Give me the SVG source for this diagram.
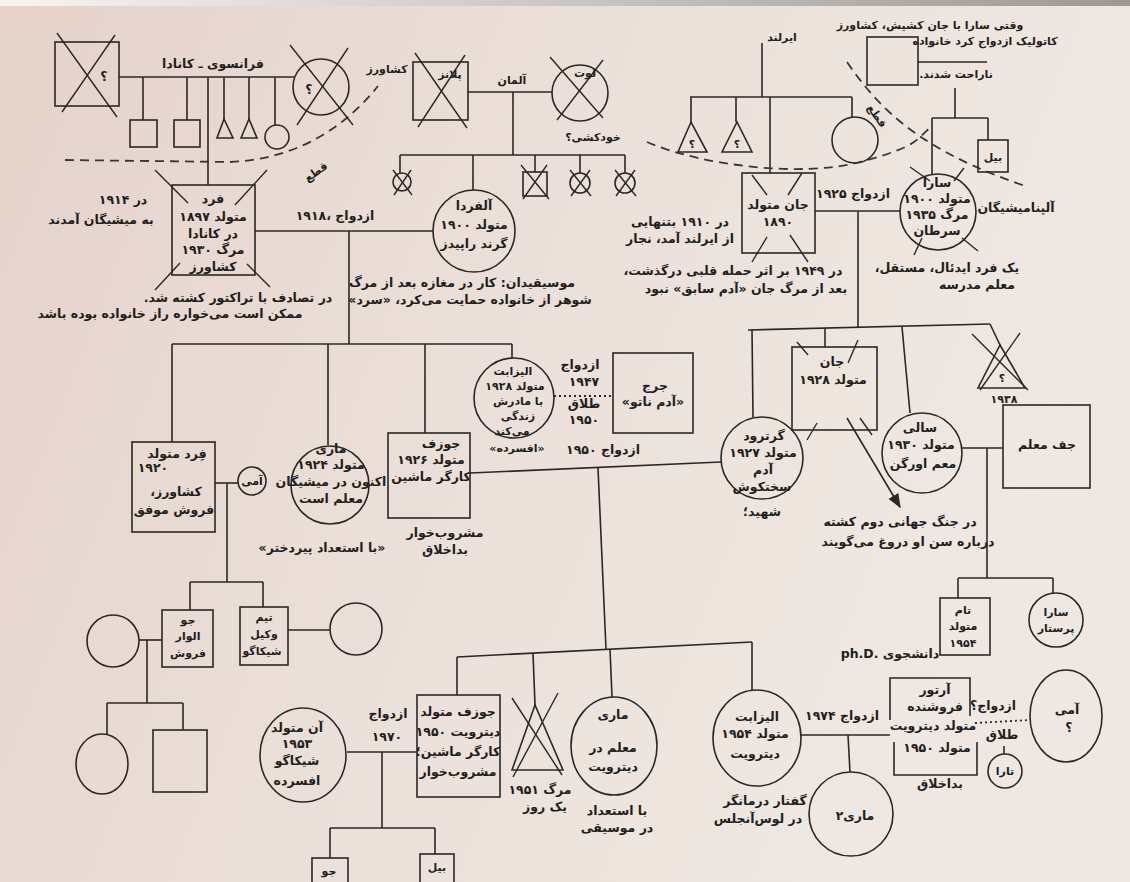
<svg xmlns="http://www.w3.org/2000/svg" width="1130" height="882" viewBox="0 0 1130 882">
<defs>
<linearGradient id="bg" x1="0" y1="0" x2="1" y2="0.3">
<stop offset="0" stop-color="#e5d2cb"/>
<stop offset="0.5" stop-color="#ebe0d9"/>
<stop offset="1" stop-color="#efe8e2"/>
</linearGradient>
<linearGradient id="topband" x1="0" y1="0" x2="1" y2="0">
<stop offset="0" stop-color="#f7f4f2"/>
<stop offset="1" stop-color="#9d9894"/>
</linearGradient>
<marker id="arr" viewBox="0 0 10 10" refX="9" refY="5" markerWidth="9" markerHeight="9" orient="auto">
<path d="M0,1 L10,5 L0,9 Z" fill="#2b2725"/>
</marker>
<style>
.ln{stroke:#2b2725;stroke-width:1.6;fill:none}
.sh{stroke:#2b2725;stroke-width:1.6;fill:none}
.x{stroke:#2b2725;stroke-width:1.4;fill:none}
.ds{stroke:#3a3533;stroke-width:1.8;fill:none;stroke-dasharray:9 6}
.dt{stroke:#2b2725;stroke-width:1.8;fill:none;stroke-dasharray:2 3}
text{font-family:"DejaVu Sans",sans-serif;font-size:12.5px;font-weight:bold;fill:#221e1c;text-anchor:middle;direction:rtl}
.s{font-size:11px}
.ltr{direction:ltr}
</style>
</defs>
<rect width="1130" height="882" fill="url(#bg)"/>
<rect width="1130" height="6" fill="url(#topband)"/>

<g id="connectors">
<line class="ln" x1="119" y1="77" x2="294" y2="77"/>
<line class="ln" x1="143" y1="77" x2="143" y2="120"/>
<line class="ln" x1="187" y1="77" x2="187" y2="120"/>
<line class="ln" x1="208" y1="77" x2="208" y2="185"/>
<line class="ln" x1="224" y1="77" x2="224" y2="119"/>
<line class="ln" x1="249" y1="77" x2="249" y2="119"/>
<line class="ln" x1="275" y1="77" x2="275" y2="125"/>
<path class="ds" d="M65,160 L230,162 Q320,158 378,86"/>
<line class="ln" x1="468" y1="92" x2="552" y2="92"/>
<line class="ln" x1="513" y1="92" x2="513" y2="155"/>
<line class="ln" x1="400" y1="155" x2="625" y2="155"/>
<line class="ln" x1="400" y1="155" x2="400" y2="173"/>
<line class="ln" x1="473" y1="155" x2="473" y2="190"/>
<line class="ln" x1="535" y1="155" x2="535" y2="172"/>
<line class="ln" x1="580" y1="155" x2="580" y2="173"/>
<line class="ln" x1="625" y1="155" x2="625" y2="173"/>
<line class="ln" x1="255" y1="231" x2="433" y2="231"/>
<line class="ln" x1="349" y1="231" x2="349" y2="344"/>
<line class="ln" x1="172" y1="344" x2="512" y2="344"/>
<line class="ln" x1="172" y1="344" x2="172" y2="442"/>
<line class="ln" x1="328" y1="344" x2="328" y2="445"/>
<line class="ln" x1="425" y1="344" x2="425" y2="433"/>
<line class="ln" x1="512" y1="344" x2="512" y2="358"/>
<line class="ln" x1="215" y1="483" x2="238" y2="483"/>
<line class="ln" x1="227" y1="483" x2="227" y2="582"/>
<line class="ln" x1="190" y1="582" x2="263" y2="582"/>
<line class="ln" x1="190" y1="582" x2="190" y2="610"/>
<line class="ln" x1="263" y1="582" x2="263" y2="607"/>
<line class="ln" x1="288" y1="630" x2="330" y2="630"/>
<line class="ln" x1="139" y1="640" x2="162" y2="640"/>
<line class="ln" x1="147" y1="640" x2="147" y2="703"/>
<line class="ln" x1="107" y1="703" x2="183" y2="703"/>
<line class="ln" x1="107" y1="703" x2="107" y2="734"/>
<line class="ln" x1="183" y1="703" x2="183" y2="730"/>
<line class="dt" x1="554" y1="396" x2="613" y2="396"/>
<line class="ln" x1="470" y1="473" x2="721" y2="462"/>
<line class="ln" x1="598" y1="468" x2="606" y2="649"/>
<line class="ln" x1="457" y1="657" x2="752" y2="642"/>
<line class="ln" x1="457" y1="657" x2="457" y2="695"/>
<line class="ln" x1="533" y1="653" x2="535" y2="705"/>
<line class="ln" x1="610" y1="649" x2="612" y2="697"/>
<line class="ln" x1="752" y1="642" x2="752" y2="690"/>
<line class="ln" x1="347" y1="752" x2="417" y2="752"/>
<line class="ln" x1="382" y1="752" x2="382" y2="828"/>
<line class="ln" x1="330" y1="828" x2="435" y2="828"/>
<line class="ln" x1="330" y1="828" x2="330" y2="858"/>
<line class="ln" x1="435" y1="828" x2="435" y2="854"/>
<line class="ln" x1="801" y1="735" x2="890" y2="735"/>
<line class="ln" x1="848" y1="735" x2="850" y2="772"/>
<line class="dt" x1="975" y1="723" x2="1030" y2="720"/>
<line class="ln" x1="1004" y1="746" x2="1004" y2="754"/>
<line class="ln" x1="762" y1="43" x2="762" y2="97"/>
<line class="ln" x1="690" y1="97" x2="852" y2="97"/>
<line class="ln" x1="691" y1="97" x2="691" y2="122"/>
<line class="ln" x1="736" y1="97" x2="736" y2="122"/>
<line class="ln" x1="770" y1="97" x2="770" y2="173"/>
<line class="ln" x1="852" y1="97" x2="852" y2="117"/>
<path class="ds" d="M647,142 C700,165 800,178 860,162 S915,140 932,126"/>
<path class="ds" d="M847,62 C880,110 920,150 1025,186"/>
<line class="ln" x1="918" y1="62" x2="987" y2="62"/>
<line class="ln" x1="955" y1="88" x2="955" y2="118"/>
<line class="ln" x1="932" y1="118" x2="988" y2="118"/>
<line class="ln" x1="932" y1="118" x2="932" y2="174"/>
<line class="ln" x1="988" y1="118" x2="988" y2="140"/>
<line class="ln" x1="815" y1="211" x2="900" y2="211"/>
<line class="ln" x1="858" y1="211" x2="858" y2="328"/>
<line class="ln" x1="748" y1="330" x2="990" y2="324"/>
<line class="ln" x1="752" y1="330" x2="753" y2="417"/>
<line class="ln" x1="825" y1="328" x2="825" y2="347"/>
<line class="ln" x1="902" y1="327" x2="910" y2="413"/>
<line class="ln" x1="990" y1="324" x2="1000" y2="345"/>
<line class="ln" x1="962" y1="448" x2="1003" y2="448"/>
<line class="ln" x1="987" y1="448" x2="987" y2="578"/>
<line class="ln" x1="958" y1="578" x2="1053" y2="578"/>
<line class="ln" x1="958" y1="578" x2="958" y2="598"/>
<line class="ln" x1="1053" y1="578" x2="1053" y2="593"/>
<line class="ln" x1="847" y1="418" x2="900" y2="507" marker-end="url(#arr)"/>
</g>

<g id="labels">
<text x="213" y="68">فرانسوی ـ کانادا</text>
<text x="387" y="73" class="s">کشاورز</text>
<text x="318" y="175" class="s" transform="rotate(-35 318 175)">قطع</text>
<text x="512" y="84" class="s">آلمان</text>
<text x="782" y="41" class="s">ایرلند</text>
<text x="874" y="118" class="s" transform="rotate(55 874 118)">قطع</text>
<text x="335" y="220">ازدواج ،۱۹۱۸</text>
<text x="123" y="204">در ۱۹۱۴</text>
<text x="101" y="224">به میشیگان آمدند</text>
<text x="238" y="302">در تصادف با تراکتور کشته شد.</text>
<text x="170" y="318">ممکن است می‌خواره راز خانواده بوده باشد</text>
<text x="462" y="287">موسیقیدان: کار در مغازه بعد از مرگ</text>
<text x="470" y="304">شوهر از خانواده حمایت می‌کرد، «سرد»</text>
<text x="680" y="226">در ۱۹۱۰ بتنهایی</text>
<text x="680" y="243">از ایرلند آمد، نجار</text>
<text x="733" y="275">در ۱۹۴۹ بر اثر حمله قلبی درگذشت،</text>
<text x="746" y="293">بعد از مرگ جان «آدم سابق» نبود</text>
<text x="853" y="198">ازدواج ۱۹۲۵</text>
<text x="930" y="29" class="s">وقتی سارا با جان  کشیش، کشاورز</text>
<text x="985" y="45" class="s">کاتولیک ازدواج کرد خانواده</text>
<text x="956" y="78" class="s">ناراحت شدند.</text>
<text x="1016" y="212">آلپنامیشیگان</text>
<text x="947" y="272">یک فرد ایدئال، مستقل،</text>
<text x="977" y="289">معلم مدرسه</text>
<text x="593" y="141" class="s">خودکشی؟</text>
<text x="322" y="552">«با استعداد پیردختر»</text>
<text x="445" y="537">مشروب‌خوار</text>
<text x="445" y="554">بداخلاق</text>
<text x="517" y="452" class="s">«افسرده»</text>
<text x="580" y="369">ازدواج</text>
<text x="584" y="386">۱۹۴۷</text>
<text x="584" y="408">طلاق</text>
<text x="584" y="424">۱۹۵۰</text>
<text x="603" y="454">ازدواج ۱۹۵۰</text>
<text x="762" y="516">شهید؛</text>
<text x="900" y="526">در جنگ جهانی دوم کشته</text>
<text x="908" y="546">درباره سن او دروغ می‌گویند</text>
<text x="890" y="658" class="ltr">ph.D. دانشجوی</text>
<text x="388" y="718">ازدواج</text>
<text x="387" y="741">۱۹۷۰</text>
<text x="540" y="794">مرگ ۱۹۵۱</text>
<text x="545" y="811">یک روز</text>
<text x="617" y="815">با استعداد</text>
<text x="617" y="832">در موسیقی</text>
<text x="765" y="805">گفتار درمانگر</text>
<text x="758" y="823">در لوس‌آنجلس</text>
<text x="842" y="720">ازدواج ۱۹۷۴</text>
<text x="940" y="788">بداخلاق</text>
<text x="993" y="710">ازدواج؟</text>
<text x="1002" y="739">طلاق</text>
</g>

<g id="n-fr-father">
<rect class="sh" x="55" y="42" width="64" height="64"/>
<line class="x" x1="57" y1="33" x2="117" y2="117"/>
<line class="x" x1="115" y1="35" x2="62" y2="112"/>
<text x="104" y="81">؟</text>
</g>
<g id="n-fr-mother">
<circle class="sh" cx="321" cy="87" r="28"/>
<line class="x" x1="290" y1="45" x2="353" y2="125"/>
<line class="x" x1="348" y1="48" x2="297" y2="125"/>
<text x="309" y="94">؟</text>
</g>
<g id="n-fr-s1"><rect class="sh" x="130" y="120" width="27" height="27"/></g>
<g id="n-fr-s2"><rect class="sh" x="174" y="120" width="26" height="27"/></g>
<g id="n-fr-t1"><polygon class="sh" points="224,119 217,138 233,138"/></g>
<g id="n-fr-t2"><polygon class="sh" points="249,119 241,138 257,138"/></g>
<g id="n-fr-c1"><circle class="sh" cx="277" cy="137" r="12"/></g>

<g id="n-planz">
<rect class="sh" x="413" y="62" width="55" height="58"/>
<line class="x" x1="415" y1="53" x2="467" y2="128"/>
<line class="x" x1="465" y1="55" x2="418" y2="127"/>
<text x="450" y="78" class="s">پلانز</text>
</g>
<g id="n-lotte">
<circle class="sh" cx="580" cy="93" r="28"/>
<line class="x" x1="550" y1="57" x2="603" y2="118"/>
<line class="x" x1="603" y1="60" x2="557" y2="120"/>
<text x="585" y="77" class="s">لوت</text>
</g>
<g id="n-g1">
<circle class="sh" cx="402" cy="182" r="9"/>
<line class="x" x1="393" y1="170" x2="412" y2="195"/>
<line class="x" x1="411" y1="170" x2="394" y2="195"/>
</g>
<g id="n-g2">
<rect class="sh" x="523" y="172" width="24" height="24"/>
<line class="x" x1="521" y1="165" x2="549" y2="199"/>
<line class="x" x1="547" y1="165" x2="523" y2="199"/>
</g>
<g id="n-g3">
<circle class="sh" cx="580" cy="183" r="10"/>
<line class="x" x1="570" y1="170" x2="591" y2="196"/>
<line class="x" x1="590" y1="170" x2="571" y2="196"/>
</g>
<g id="n-g4">
<circle class="sh" cx="625" cy="183" r="10"/>
<line class="x" x1="615" y1="170" x2="636" y2="196"/>
<line class="x" x1="635" y1="170" x2="616" y2="196"/>
</g>

<g id="n-fred1897">
<rect class="sh" x="172" y="185" width="83" height="90"/>
<line class="x" x1="155" y1="170" x2="188" y2="203"/>
<line class="x" x1="267" y1="170" x2="235" y2="205"/>
<line class="x" x1="180" y1="263" x2="155" y2="290"/>
<line class="x" x1="247" y1="264" x2="270" y2="287"/>
<text x="213" y="203">فرد</text>
<text x="213" y="221">متولد ۱۸۹۷</text>
<text x="213" y="238">در کانادا</text>
<text x="213" y="254">مرگ ۱۹۳۰</text>
<text x="213" y="271">کشاورز</text>
</g>
<g id="n-alfreda">
<circle class="sh" cx="474" cy="231" r="41"/>
<text x="474" y="210">آلفردا</text>
<text x="474" y="229">متولد ۱۹۰۰</text>
<text x="474" y="248">گرند راپیدز</text>
</g>

<g id="n-john1890">
<rect class="sh" x="742" y="173" width="73" height="80"/>
<line class="x" x1="752" y1="175" x2="767" y2="195"/>
<line class="x" x1="802" y1="173" x2="788" y2="195"/>
<line class="x" x1="767" y1="237" x2="752" y2="262"/>
<line class="x" x1="790" y1="235" x2="808" y2="262"/>
<text x="778" y="209">جان متولد</text>
<text x="778" y="226">۱۸۹۰</text>
</g>
<g id="n-ir-t1">
<polygon class="sh" points="691,122 678,152 707,152"/>
<text x="692" y="148" class="s">؟</text>
</g>
<g id="n-ir-t2">
<polygon class="sh" points="737,122 722,152 752,152"/>
<text x="737" y="148" class="s">؟</text>
</g>
<g id="n-ir-c1"><circle class="sh" cx="855" cy="140" r="23"/></g>
<g id="n-priest"><rect class="sh" x="867" y="37" width="51" height="48"/></g>
<g id="n-bill1">
<rect class="sh" x="978" y="140" width="30" height="32"/>
<text x="993" y="161" class="s">بیل</text>
</g>
<g id="n-sara1900">
<circle class="sh" cx="938" cy="212" r="38"/>
<line class="x" x1="910" y1="167" x2="930" y2="181"/>
<line class="x" x1="964" y1="168" x2="954" y2="181"/>
<line class="x" x1="922" y1="238" x2="914" y2="255"/>
<line class="x" x1="962" y1="238" x2="978" y2="251"/>
<text x="937" y="187">سارا</text>
<text x="937" y="203">متولد ۱۹۰۰</text>
<text x="937" y="219">مرگ ۱۹۳۵</text>
<text x="937" y="235">سرطان</text>
</g>

<g id="n-fred1920">
<rect class="sh" x="132" y="442" width="83" height="90"/>
<text x="177" y="458">فِرد متولد</text>
<text x="153" y="472">۱۹۲۰</text>
<text x="176" y="496">کشاورز،</text>
<text x="174" y="514">فروش موفق</text>
</g>
<g id="n-amy1">
<circle class="sh" cx="252" cy="481" r="14"/>
<text x="252" y="485" class="s">آمی</text>
</g>
<g id="n-joe-lumber">
<rect class="sh" x="162" y="610" width="51" height="57"/>
<text x="188" y="624" class="s">جو</text>
<text x="188" y="640" class="s">الوار</text>
<text x="188" y="657" class="s">فروش</text>
</g>
<g id="n-tim">
<rect class="sh" x="240" y="607" width="48" height="58"/>
<text x="264" y="621" class="s">تیم</text>
<text x="264" y="638" class="s">وکیل</text>
<text x="262" y="655" class="s">شیکاگو</text>
</g>
<g id="n-tim-wife"><circle class="sh" cx="356" cy="629" r="26"/></g>
<g id="n-joe-wife"><circle class="sh" cx="113" cy="641" r="26"/></g>
<g id="n-joe-d"><ellipse class="sh" cx="102" cy="764" rx="26" ry="30"/></g>
<g id="n-joe-s"><rect class="sh" x="153" y="730" width="54" height="62"/></g>

<g id="n-mary1924">
<circle class="sh" cx="330" cy="485" r="39"/>
<text x="331" y="453">ماری</text>
<text x="331" y="469">متولد ۱۹۲۴</text>
<text x="331" y="486">اکنون در میشیگان</text>
<text x="331" y="503">معلم است</text>
</g>
<g id="n-joseph1926">
<rect class="sh" x="388" y="433" width="82" height="85"/>
<text x="441" y="448">جوزف</text>
<text x="431" y="464">متولد ۱۹۲۶</text>
<text x="431" y="481">کارگر ماشین</text>
</g>
<g id="n-eliz1928">
<circle class="sh" cx="514" cy="398" r="40"/>
<text x="513" y="375" class="s">الیزابت</text>
<text x="515" y="390" class="s">متولد ۱۹۲۸</text>
<text x="518" y="405" class="s">با مادرش</text>
<text x="518" y="420" class="s">زندگی</text>
<text x="512" y="435" class="s">می‌کند</text>
</g>
<g id="n-george">
<rect class="sh" x="613" y="353" width="80" height="80"/>
<text x="655" y="390">جرج</text>
<text x="653" y="406">«آدم ناتو»</text>
</g>

<g id="n-gertrude">
<circle class="sh" cx="762" cy="458" r="41"/>
<text x="764" y="440">گرترود</text>
<text x="763" y="457">متولد ۱۹۲۷</text>
<text x="763" y="474">آدم</text>
<text x="762" y="491">سختکوش</text>
</g>
<g id="n-john1928">
<rect class="sh" x="792" y="347" width="85" height="83"/>
<line class="x" x1="797" y1="342" x2="808" y2="355"/>
<line class="x" x1="858" y1="340" x2="848" y2="363"/>
<line class="x" x1="817" y1="423" x2="807" y2="440"/>
<line class="x" x1="860" y1="418" x2="872" y2="435"/>
<text x="832" y="366">جان</text>
<text x="833" y="384">متولد ۱۹۲۸</text>
</g>
<g id="n-sally">
<circle class="sh" cx="922" cy="453" r="40"/>
<text x="920" y="432">سالی</text>
<text x="921" y="449">متولد ۱۹۳۰</text>
<text x="923" y="468">معم اورگن</text>
</g>
<g id="n-m1938">
<polygon class="sh" points="1000,345 978,388 1025,388"/>
<line class="x" x1="972" y1="334" x2="1028" y2="390"/>
<line class="x" x1="1020" y1="333" x2="980" y2="390"/>
<text x="1002" y="382" class="s">؟</text>
<text x="1004" y="403" class="s">۱۹۳۸</text>
</g>
<g id="n-jeff">
<rect class="sh" x="1003" y="405" width="87" height="83"/>
<text x="1047" y="449">جف معلم</text>
</g>
<g id="n-tom">
<rect class="sh" x="940" y="598" width="50" height="57"/>
<text x="963" y="614" class="s">تام</text>
<text x="963" y="630" class="s">متولد</text>
<text x="963" y="647" class="s">۱۹۵۴</text>
</g>
<g id="n-sara-nurse">
<circle class="sh" cx="1056" cy="620" r="27"/>
<text x="1056" y="616" class="s">سارا</text>
<text x="1056" y="632" class="s">پرستار</text>
</g>

<g id="n-joseph1950">
<rect class="sh" x="417" y="695" width="83" height="102"/>
<text x="458" y="716">جوزف متولد</text>
<text x="458" y="736">دیترویت ۱۹۵۰</text>
<text x="458" y="756">کارگر ماشین؛</text>
<text x="458" y="776">مشروب‌خوار</text>
</g>
<g id="n-ann">
<ellipse class="sh" cx="303" cy="755" rx="43" ry="47"/>
<text x="297" y="732">آن متولد</text>
<text x="297" y="748">۱۹۵۳</text>
<text x="297" y="765">شیکاگو</text>
<text x="297" y="785">افسرده</text>
</g>
<g id="n-joe2">
<rect class="sh" x="312" y="858" width="36" height="30"/>
<text x="329" y="875" class="s">جو</text>
</g>
<g id="n-bill2">
<rect class="sh" x="420" y="854" width="34" height="32"/>
<text x="437" y="871" class="s">بیل</text>
</g>
<g id="n-died1951">
<polygon class="sh" points="535,705 512,770 563,770"/>
<line class="x" x1="512" y1="698" x2="562" y2="775"/>
<line class="x" x1="558" y1="693" x2="513" y2="777"/>
</g>
<g id="n-mary-det">
<ellipse class="sh" cx="614" cy="746" rx="43" ry="49"/>
<text x="613" y="719">ماری</text>
<text x="613" y="752">معلم در</text>
<text x="613" y="771">دیترویت</text>
</g>
<g id="n-eliz1954">
<ellipse class="sh" cx="757" cy="738" rx="44" ry="48"/>
<text x="757" y="721">الیزابت</text>
<text x="755" y="738">متولد ۱۹۵۴</text>
<text x="755" y="758">دیترویت</text>
</g>
<g id="n-mary2">
<circle class="sh" cx="851" cy="814" r="42"/>
<text x="855" y="820">ماری۲</text>
</g>
<g id="n-arthur">
<path class="sh" d="M890,720 L890,678 L970,678 L970,716 M977,742 L977,775 L894,775 L894,742"/>
<text x="935" y="694">آرتور</text>
<text x="935" y="711">فروشنده</text>
<text x="933" y="730">متولد دیترویت</text>
<text x="937" y="752">متولد ۱۹۵۰</text>
</g>
<g id="n-tara">
<circle class="sh" cx="1005" cy="771" r="17"/>
<text x="1005" y="775" class="s">تارا</text>
</g>
<g id="n-amy2">
<ellipse class="sh" cx="1066" cy="716" rx="36" ry="46"/>
<text x="1067" y="714">آمی</text>
<text x="1069" y="732">؟</text>
</g>
</svg>
